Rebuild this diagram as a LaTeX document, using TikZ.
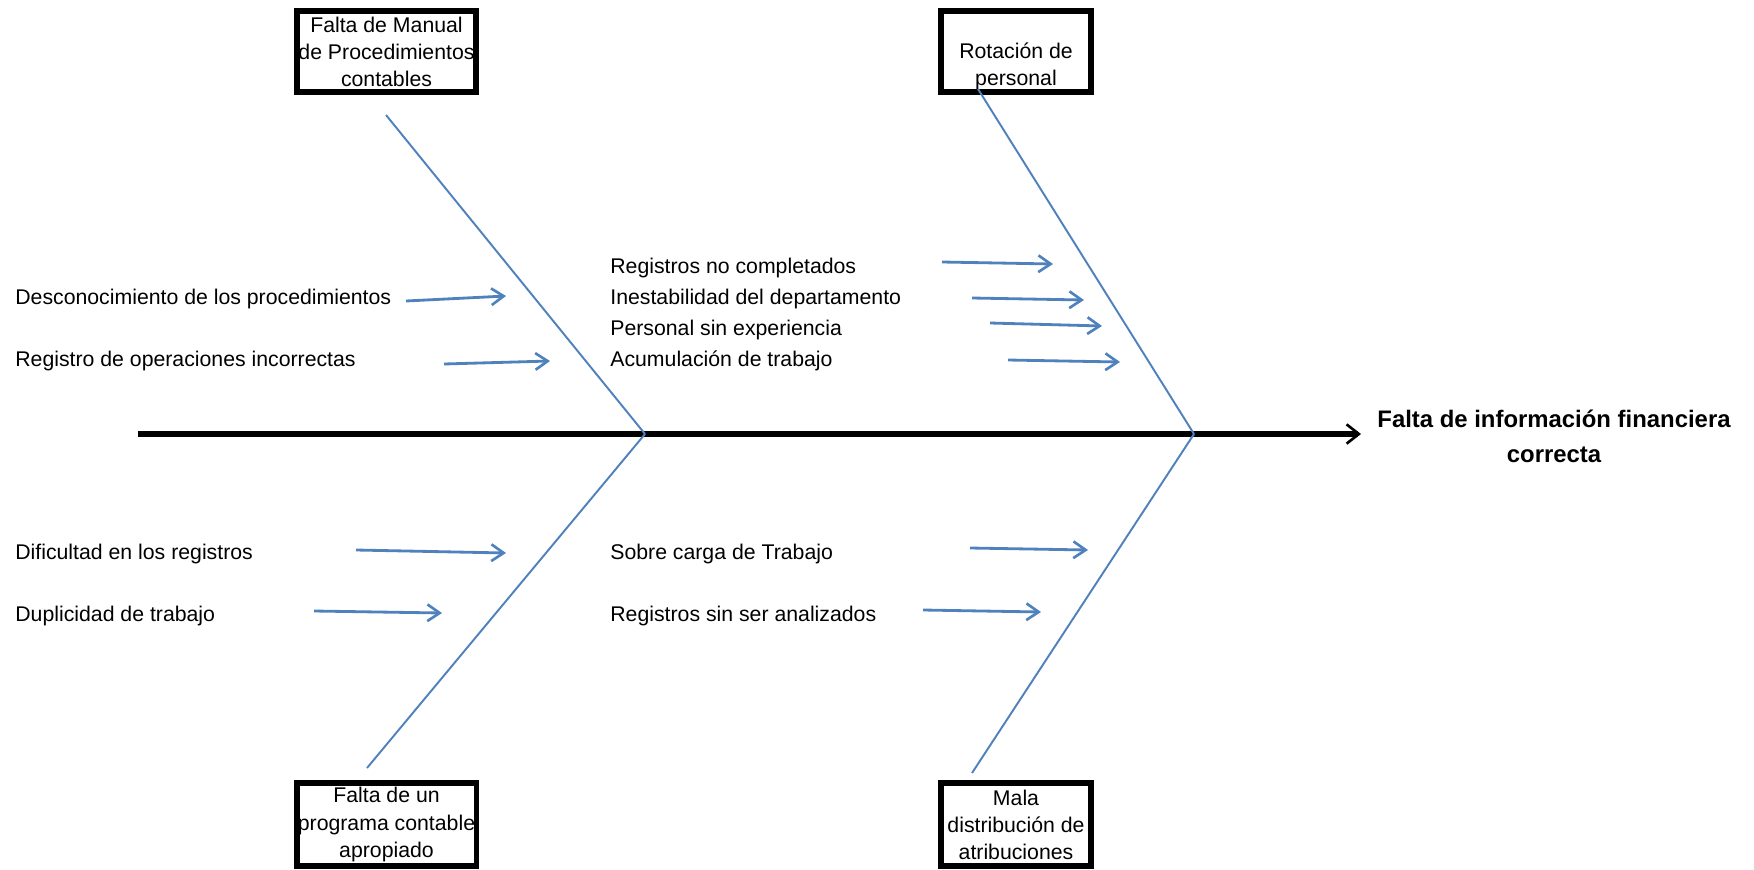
\documentclass[tikz,border=0pt]{standalone}
\usepackage{fontspec}
\setmainfont{Liberation Sans}
\usetikzlibrary{arrows.meta}
\definecolor{bonecol}{RGB}{79,129,189}
\tikzset{
  causebox/.style={draw,line width=3.4pt,inner sep=0pt,minimum height=1.62cm,align=center,font=\fontsize{12.1}{15.4}\selectfont},
  cause/.style={anchor=base west,inner sep=0pt,font=\fontsize{12.1}{14.5}\selectfont},
  bone/.style={bonecol,line width=1.1pt},
  sub/.style={bonecol,line width=1.6pt,-{Straight Barb[length=7pt,width=9.5pt,line width=1.5pt]}},
  spine/.style={line width=3.8pt,-{Straight Barb[length=7pt,width=11pt,line width=1.5pt]}}
}
\begin{document}
\begin{tikzpicture}[x=0.02cm,y=-0.02cm]
\useasboundingbox (0,0) rectangle (1754,869);
\node[causebox,minimum width=3.58cm](manual) at (386.5,51.5){Falta de Manual\\de Procedimientos\\contables};
\node[causebox,minimum width=3.0cm](rotacion) at (1016,51.5){\strut\\Rotación de\\personal};
\node[causebox,minimum width=3.6cm,minimum height=1.66cm](programa) at (386.5,824.5){Falta de un\\programa contable\\apropiado};
\node[causebox,minimum width=3.0cm,minimum height=1.66cm](distrib) at (1016,824.5){Mala\\distribución de\\atribuciones};
\node[align=center,font=\fontsize{13.6}{19.9}\selectfont\bfseries](efecto) at (1554,436){Falta de información financiera\\correcta};
\coordinate (tail) at (138,434);
\coordinate (head) at (1361,434);
\coordinate (j1) at (645,434);
\coordinate (j2) at (1194,434);
\coordinate (ul) at (386,115);
\coordinate (ur) at (978,89);
\coordinate (ll) at (367,768);
\coordinate (lr) at (972,773);
\draw[spine] (tail) -- (head);
\path (ul) edge[bone] (j1);
\path (ur) edge[bone] (j2);
\path (ll) edge[bone] (j1);
\path (lr) edge[bone] (j2);
\node[cause](c1) at (15,304){Desconocimiento de los procedimientos};
\node[cause](c2) at (15,366){Registro de operaciones incorrectas};
\node[cause](c3) at (610,273){Registros no completados};
\node[cause](c4) at (610,304){Inestabilidad del departamento};
\node[cause](c5) at (610,335){Personal sin experiencia};
\node[cause](c6) at (610,366){Acumulación de trabajo};
\node[cause](c7) at (15,559){Dificultad en los registros};
\node[cause](c8) at (15,621){Duplicidad de trabajo};
\node[cause](c9) at (610,559){Sobre carga de Trabajo};
\node[cause](c10) at (610,621){Registros sin ser analizados};
\coordinate (s1) at (406,301); \coordinate (e1) at (506,296);
\coordinate (s2) at (444,364); \coordinate (e2) at (550,361);
\coordinate (s3) at (942,262); \coordinate (e3) at (1053,264);
\coordinate (s4) at (972,298); \coordinate (e4) at (1084,300);
\coordinate (s5) at (990,323); \coordinate (e5) at (1102,326);
\coordinate (s6) at (1008,360); \coordinate (e6) at (1120,362);
\coordinate (s7) at (356,550); \coordinate (e7) at (506,553);
\coordinate (s8) at (314,611); \coordinate (e8) at (442,613);
\coordinate (s9) at (970,548); \coordinate (e9) at (1088,550);
\coordinate (s10) at (923,610); \coordinate (e10) at (1041,612);
\path (s1) edge[sub] (e1);
\path (s2) edge[sub] (e2);
\path (s3) edge[sub] (e3);
\path (s4) edge[sub] (e4);
\path (s5) edge[sub] (e5);
\path (s6) edge[sub] (e6);
\path (s7) edge[sub] (e7);
\path (s8) edge[sub] (e8);
\path (s9) edge[sub] (e9);
\path (s10) edge[sub] (e10);
\end{tikzpicture}
\end{document}
